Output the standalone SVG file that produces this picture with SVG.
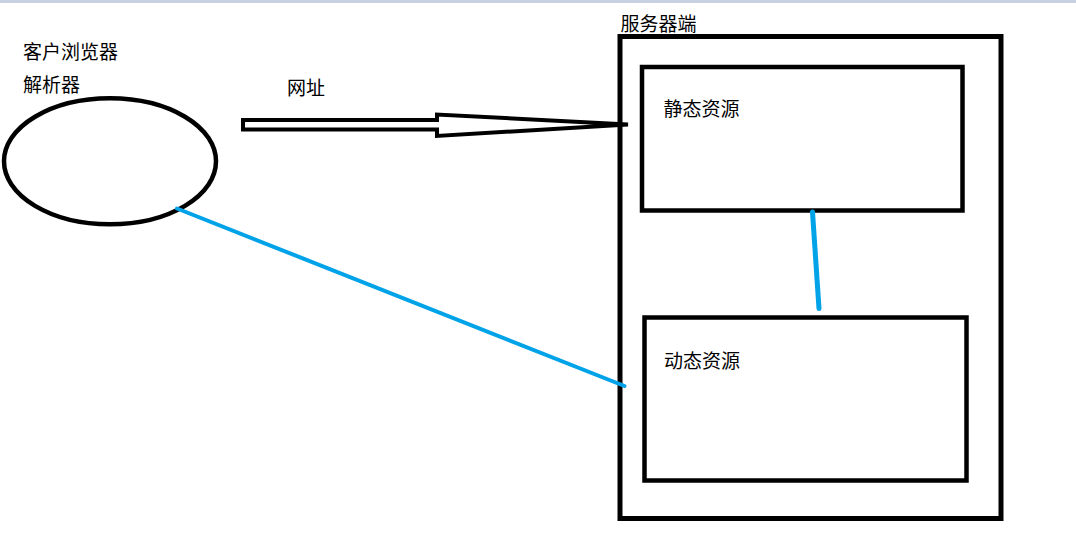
<svg xmlns="http://www.w3.org/2000/svg" width="1076" height="552" viewBox="0 0 1076 552">
<style>
.lbl{font-family:"Microsoft YaHei","Noto Sans CJK SC",sans-serif;font-size:19px;fill:#000}
.box{fill:none;stroke:#000}
.wire{fill:none;stroke:#00a2e8;stroke-linecap:round}
</style>
<rect x="0" y="0" width="1076" height="552" fill="#fff"/>
<rect x="0" y="0" width="1076" height="3" fill="#c9d2e3"/>
<g id="browser">
<ellipse class="box" cx="110" cy="161.3" rx="106" ry="63" stroke-width="4.5"/>
<text class="lbl" x="23" y="58.5">客户浏览器</text>
<text class="lbl" x="23" y="91.5">解析器</text>
</g>
<g id="server">
<rect class="box" x="620" y="36.5" width="381" height="482" stroke-width="5"/>
<text class="lbl" x="620.5" y="30.5">服务器端</text>
</g>
<g id="static">
<rect class="box" x="642" y="67" width="320.5" height="143.5" stroke-width="4.5"/>
<text class="lbl" x="663.5" y="116">静态资源</text>
</g>
<g id="dynamic">
<rect class="box" x="644.5" y="317.5" width="322" height="163" stroke-width="4.5"/>
<text class="lbl" x="664" y="368">动态资源</text>
</g>
<g id="connectors">
<polygon points="243,120 437,120 437,114.5 628,124.5 437,136 437,129.5 243,129.5" fill="#fff" stroke="#000" stroke-width="4" stroke-linejoin="miter"/>
<text class="lbl" x="287" y="95">网址</text>
<line class="wire" x1="812.5" y1="212" x2="819" y2="308.5" stroke-width="5"/>
<line class="wire" x1="177" y1="208.5" x2="624.5" y2="386" stroke-width="4"/>
</g>
</svg>
